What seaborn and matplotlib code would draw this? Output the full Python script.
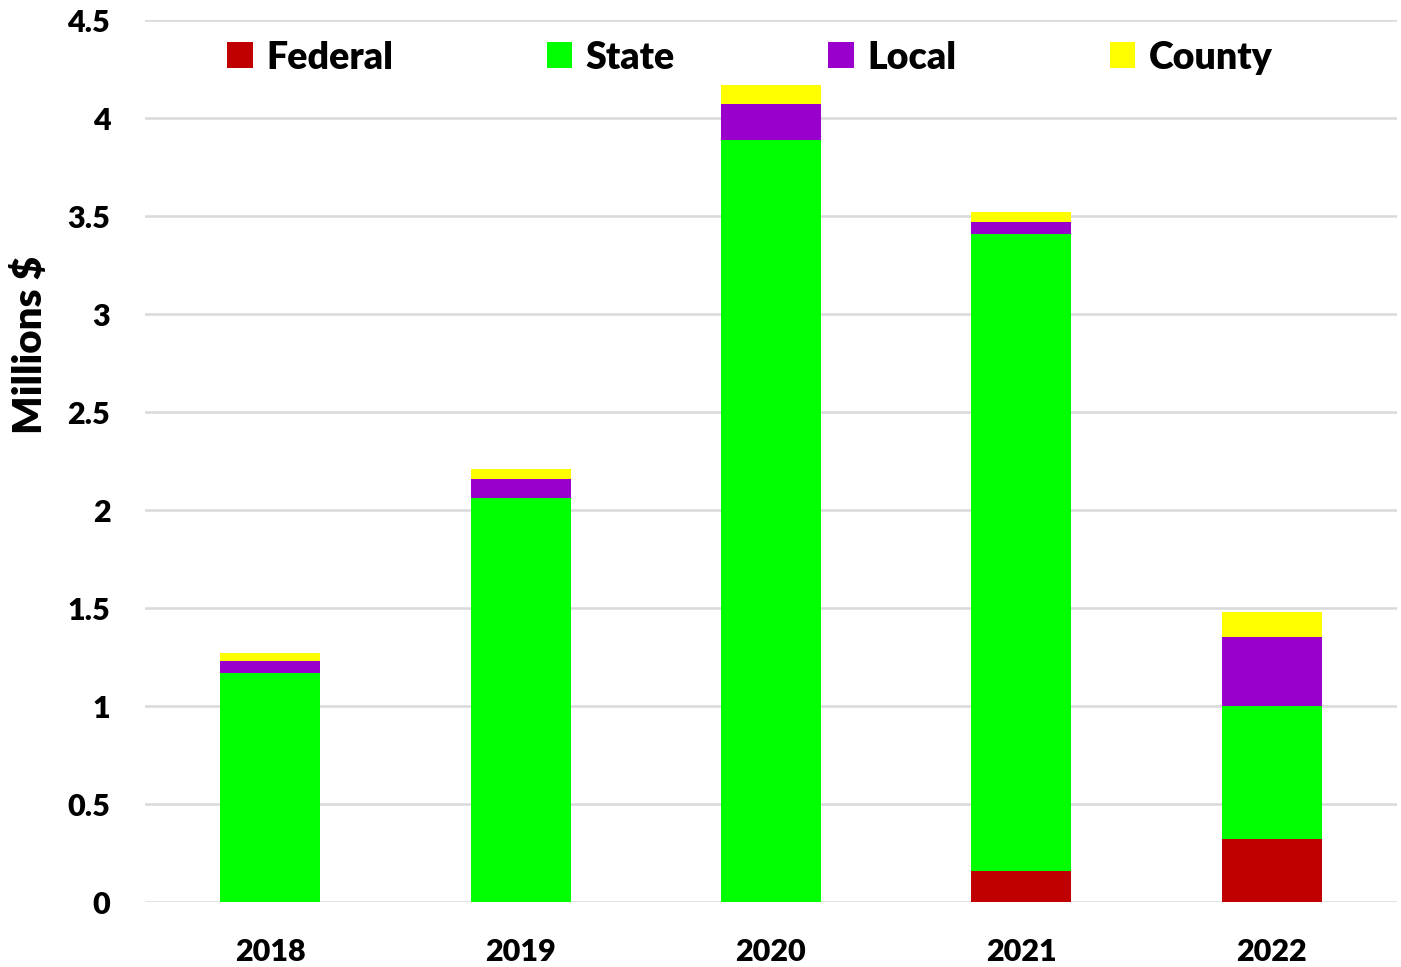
import matplotlib.pyplot as plt
import seaborn as sns
import numpy as np
import pandas as pd

# Values (millions $)
years = ["2018", "2019", "2020", "2021", "2022"]
federal = [0.0, 0.0, 0.0, 0.16, 0.32]
state = [1.17, 2.06, 3.89, 3.25, 0.68]
local = [0.06, 0.10, 0.18, 0.06, 0.35]
county = [0.04, 0.05, 0.10, 0.05, 0.13]

series = ["Federal", "State", "Local", "County"]
colors = ["#C00000", "#00FF00", "#9900CC", "#FFFF00"]
yticks = [0, 0.5, 1, 1.5, 2, 2.5, 3, 3.5, 4, 4.5]
ytick_labels = ["0", "0.5", "1", "1.5", "2", "2.5", "3", "3.5", "4", "4.5"]

df = pd.DataFrame({"Year": years, "Federal": federal, "State": state,
                   "Local": local, "County": county})

sns.set_style("white")
plt.rcParams["font.family"] = ["Lato", "DejaVu Sans"]
plt.rcParams["text.color"] = "black"
plt.rcParams["xtick.color"] = "black"
plt.rcParams["ytick.color"] = "black"
plt.rcParams["axes.labelcolor"] = "black"

fig = plt.figure(figsize=(14.01, 9.67), dpi=100)
ax = fig.add_axes([145 / 1401, 1 - 902 / 967, 1252 / 1401, 882 / 967])

# stacked bars, one layer per funding source
bottom = np.zeros(len(years))
for name, col in zip(series, colors):
    sns.barplot(data=df, x="Year", y=name, bottom=bottom, color=col,
                width=0.4, ax=ax, label=name, saturation=1, linewidth=0)
    bottom = bottom + df[name].to_numpy()

ax.set_xlim(-0.5, 4.5)
ax.set_ylim(0, 4.5)
ax.set_yticks(yticks)
ax.set_yticklabels(ytick_labels)
ax.yaxis.grid(True, color="#D9D9D9", linewidth=1.8)
ax.set_axisbelow(True)
for s in ax.spines.values():
    s.set_visible(False)
ax.tick_params(axis="both", length=0, labelsize=22)
ax.tick_params(axis="y", pad=25)
ax.tick_params(axis="x", pad=26)
for lbl in ax.get_xticklabels() + ax.get_yticklabels():
    lbl.set_fontweight("heavy")

ax.set_xlabel("")
ax.set_ylabel("Millions $", fontsize=29, fontweight="heavy")
ax.yaxis.set_label_coords(-0.077, 0.632)

handles, labels = ax.get_legend_handles_labels()
ax.legend(handles, labels, ncol=4, loc="upper center",
          bbox_to_anchor=(0.483, 1.015), frameon=False,
          prop={"size": 27, "weight": "heavy"},
          handlelength=0.68, handleheight=0.68, handletextpad=0.35,
          columnspacing=4.1)

plt.savefig("out.png", dpi=100)
plt.close()
